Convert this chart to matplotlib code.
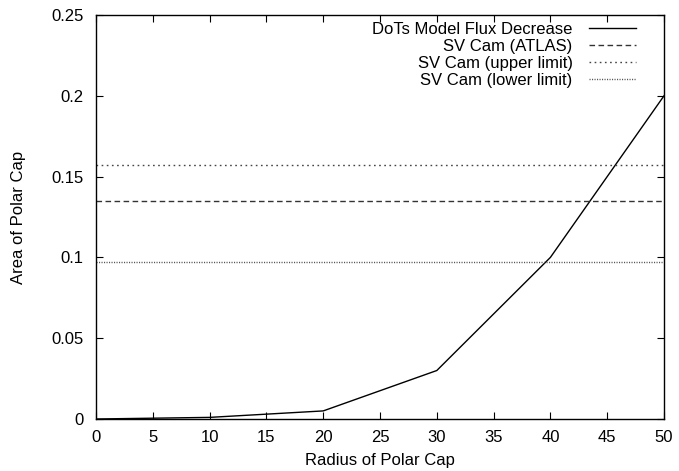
import matplotlib
matplotlib.use("Agg")
import matplotlib.pyplot as plt

plt.rcParams['font.family'] = ['Liberation Sans', 'DejaVu Sans']

# polar cap area vs. radius
radius = [0, 10, 20, 30, 40, 50]
area = [0.0, 0.001, 0.005, 0.03, 0.1, 0.2]

# SV Cam reference levels
sv_atlas = 0.135
sv_upper = 0.157
sv_lower = 0.097

xticks = [0, 5, 10, 15, 20, 25, 30, 35, 40, 45, 50]
yticks = [0, 0.05, 0.1, 0.15, 0.2, 0.25]
ytick_labels = ["0", "0.05", "0.1", "0.15", "0.2", "0.25"]

fig = plt.figure(figsize=(6.79, 4.71), dpi=100)
ax = fig.add_axes([96 / 679, 1 - 419 / 471, (664 - 96) / 679, (419 - 15) / 471])

ax.plot(radius, area, color='black', lw=1.0, label='DoTs Model Flux Decrease')
ax.axhline(sv_atlas, color='#333333', lw=1.0, ls=(0, (4, 2.5)), label='SV Cam (ATLAS)')
ax.axhline(sv_upper, color='#444444', lw=1.0, ls=(0, (1.2, 2.5)), label='SV Cam (upper limit)')
ax.axhline(sv_lower, color='#555555', lw=1.0, ls=(0, (0.8, 1.0)), label='SV Cam (lower limit)')

ax.set_xlim(0, 50)
ax.set_ylim(0, 0.25)
ax.set_xticks(xticks)
ax.set_xticklabels([str(t) for t in xticks])
ax.set_yticks(yticks)
ax.set_yticklabels(ytick_labels)
ax.tick_params(direction='in', top=True, right=True, length=5, width=0.8,
               labelsize=12)
ax.tick_params(axis='x', pad=8)
ax.tick_params(axis='y', pad=9)
for s in ax.spines.values():
    s.set_linewidth(1.0)

ax.set_xlabel('Radius of Polar Cap', fontsize=12, labelpad=6)
ax.set_ylabel('Area of Polar Cap', fontsize=12, labelpad=18)

ax.legend(loc='upper right', bbox_to_anchor=(636 / 679, 1 - 22 / 471),
          bbox_transform=fig.transFigure, frameon=False, markerfirst=False,
          fontsize=12, handlelength=2.8, handletextpad=1.0,
          labelspacing=0.12, borderpad=0, borderaxespad=0)

fig.savefig('out.png', dpi=100)
